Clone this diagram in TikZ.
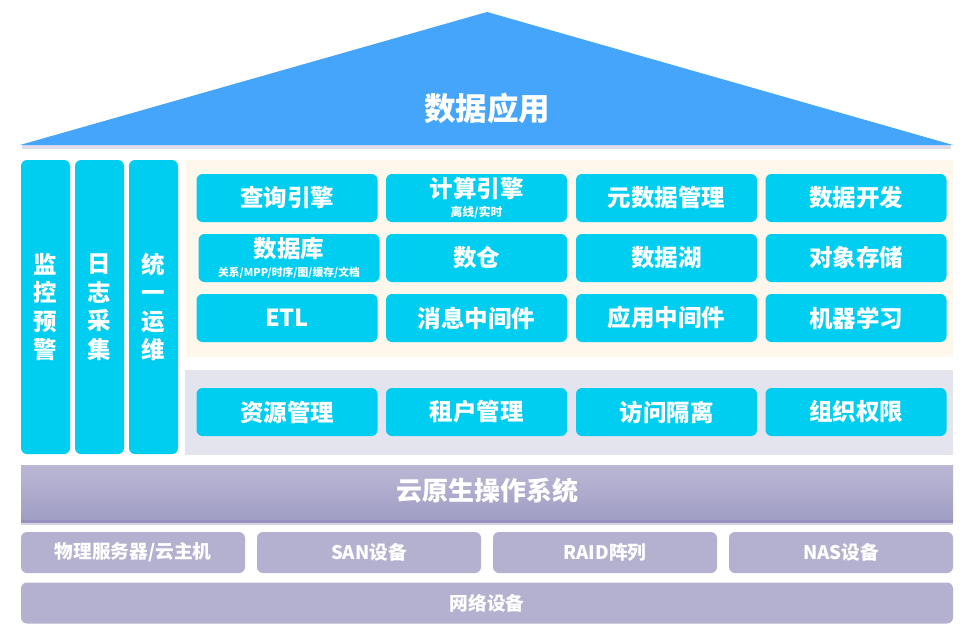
\documentclass[tikz,border=0pt]{standalone}
\usepackage{fontspec}
\setmainfont{Noto Sans CJK SC}
\usetikzlibrary{positioning}
\definecolor{roofblue}{RGB}{69,165,250}
\definecolor{cyanbox}{RGB}{0,206,240}
\definecolor{beigebg}{RGB}{253,247,236}
\definecolor{greybg}{RGB}{228,228,238}
\definecolor{lavbox}{RGB}{180,177,208}
\definecolor{bartop}{RGB}{186,183,213}
\definecolor{barbot}{RGB}{160,157,196}
\definecolor{barline}{RGB}{150,145,188}
\newcommand{\subtxtfont}{\bfseries\fontsize{11.8}{13}\selectfont}
\newcommand{\dbsubfont}{\bfseries\fontsize{10.8}{12}\selectfont}
\tikzset{
  cbox/.style={fill=cyanbox, rounded corners=6pt, text=white, inner sep=0pt,
    minimum width=181pt, minimum height=48pt, align=center,
    font=\bfseries\fontsize{23.5}{25}\selectfont},
  vcol/.style={fill=cyanbox, rounded corners=6pt, text=white, inner sep=0pt,
    minimum width=49pt, minimum height=294pt, align=center,
    font=\bfseries\fontsize{23.5}{28.5}\selectfont},
  lbox/.style={fill=lavbox, rounded corners=6pt, text=white, inner sep=0pt,
    minimum height=41pt, align=center,
    font=\bfseries\fontsize{18.7}{21}\selectfont},
  panel/.style={inner sep=0pt, draw=none}
}
\begin{document}
\begin{tikzpicture}[x=1pt,y=-1pt]
\useasboundingbox (0,0) rectangle (973,635);
\fill[white] (0,0) rectangle (973,635);
% roof shadow
\fill[barline!70, opacity=0.45] (22,145) rectangle (951,149);
% roof
\fill[roofblue] (487,12) -- (953,145) -- (20,145) -- cycle;
\node[text=white, font=\bfseries\fontsize{31.5}{34}\selectfont] (roof) at (487,108) {数据应用};
% panels
\node[panel, fill=beigebg, minimum width=767pt, minimum height=197pt] (bpanel) at (569.5,258.5) {};
\node[panel, fill=greybg, minimum width=768pt, minimum height=85pt] (gpanel) at (569,412.5) {};
% vertical columns
\node[vcol] (c1) at (45.5,307) {监\\控\\预\\警};
\node[vcol] (c2) at (99.5,307) {日\\志\\采\\集};
\node[vcol] (c3) at (153.5,307) {统\\一\\运\\维};
% row 1
\node[cbox] (q) at (287,198) {查询引擎};
\node[cbox] (calc) at (476.5,198) {计算引擎\\[-6pt]{\subtxtfont 离线/实时}};
\node[cbox] (meta) at (666.5,198) {元数据管理};
\node[cbox] (dev) at (856,198) {数据开发};
% row 2
\node[cbox] (db) at (289,258) {数据库\\[-6pt]{\dbsubfont 关系/MPP/时序/图/缓存/文档}};
\node[cbox] (dw) at (476.5,258) {数仓};
\node[cbox] (lake) at (666.5,258) {数据湖};
\node[cbox] (obj) at (856,258) {对象存储};
% row 3
\node[cbox] (etl) at (287,318) {ETL};
\node[cbox] (mq) at (476.5,318) {消息中间件};
\node[cbox] (app) at (666.5,318) {应用中间件};
\node[cbox] (ml) at (856,318) {机器学习};
% grey row
\node[cbox] (res) at (287,412) {资源管理};
\node[cbox] (ten) at (476.5,412) {租户管理};
\node[cbox] (acc) at (666.5,412) {访问隔离};
\node[cbox] (org) at (856,412) {组织权限};
% cloud native OS bar
\shade[top color=bartop, bottom color=barbot] (21,465) rectangle (953,521);
\fill[barline] (21,520) rectangle (953,522.5);
\fill[barline!40] (21,522.5) rectangle (953,525);
\node[text=white, font=\bfseries\fontsize{26}{28}\selectfont] (os) at (487,491) {云原生操作系统};
% hardware
\node[lbox, minimum width=224pt] (phy) at (133,552.5) {物理服务器/云主机};
\node[lbox, minimum width=224pt] (san) at (369,552.5) {SAN设备};
\node[lbox, minimum width=224pt] (raid) at (605,552.5) {RAID阵列};
\node[lbox, minimum width=224pt] (nas) at (841,552.5) {NAS设备};
\node[lbox, minimum width=932pt] (net) at (487,603) {网络设备};
\end{tikzpicture}
\end{document}
